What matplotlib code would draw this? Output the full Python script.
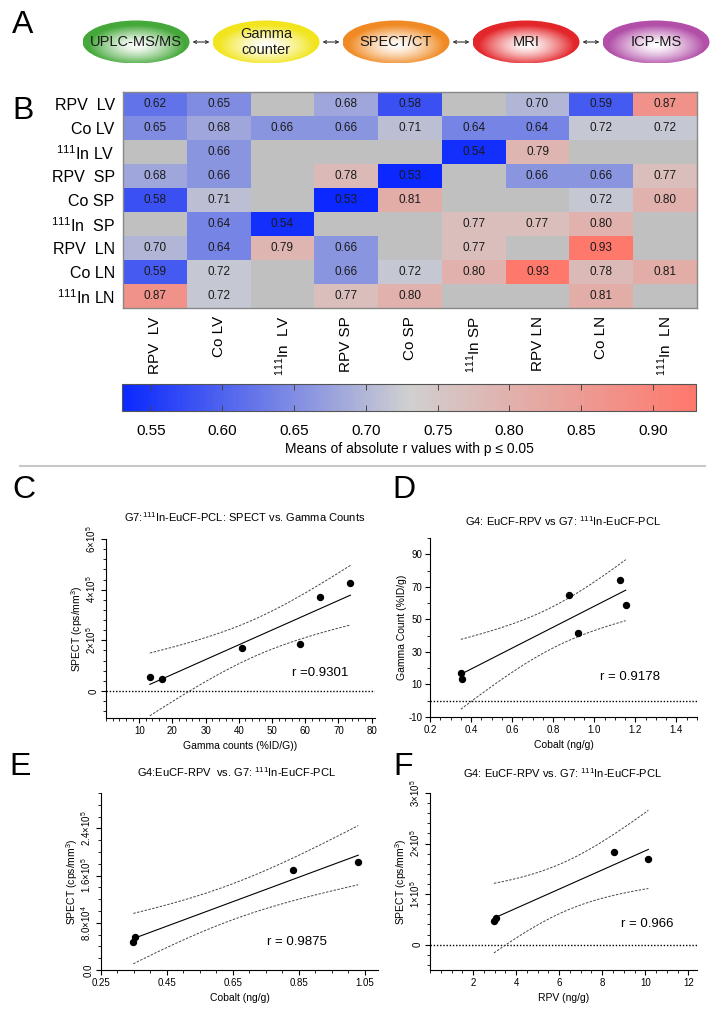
import numpy as np
import matplotlib
matplotlib.use("Agg")
import matplotlib.pyplot as plt
from matplotlib.colors import LinearSegmentedColormap, to_rgb
from matplotlib.patches import Ellipse
from matplotlib.lines import Line2D
from matplotlib.ticker import MultipleLocator, FormatStrFormatter

plt.rcParams["font.family"] = ["Liberation Sans", "DejaVu Sans"]
plt.rcParams["mathtext.default"] = "regular"

W, H = 726, 1035

# panel A
methods = ["UPLC-MS/MS", "Gamma\ncounter", "SPECT/CT", "MRI", "ICP-MS"]
method_colors = ["#45a83a", "#f2e51e", "#f08a24", "#e3262a", "#b24fa8"]

# panel B
row_labels = ["RPV  LV", "Co LV", "$^{111}$In LV", "RPV  SP", "Co SP",
              "$^{111}$In  SP", "RPV  LN", "Co LN", "$^{111}$In LN"]
col_labels = ["RPV  LV", "Co LV", "$^{111}$In  LV", "RPV SP", "Co SP",
              "$^{111}$In SP", "RPV LN", "Co LN", "$^{111}$In  LN"]
nan = np.nan
r_means = np.array([
    [0.62, 0.65, nan, 0.68, 0.58, nan, 0.70, 0.59, 0.87],
    [0.65, 0.68, 0.66, 0.66, 0.71, 0.64, 0.64, 0.72, 0.72],
    [nan, 0.66, nan, nan, nan, 0.54, 0.79, nan, nan],
    [0.68, 0.66, nan, 0.78, 0.53, nan, 0.66, 0.66, 0.77],
    [0.58, 0.71, nan, 0.53, 0.81, nan, nan, 0.72, 0.80],
    [nan, 0.64, 0.54, nan, nan, 0.77, 0.77, 0.80, nan],
    [0.70, 0.64, 0.79, 0.66, nan, 0.77, nan, 0.93, nan],
    [0.59, 0.72, nan, 0.66, 0.72, 0.80, 0.93, 0.78, 0.81],
    [0.87, 0.72, nan, 0.77, 0.80, nan, nan, 0.81, nan],
])
cbar_ticks = [0.55, 0.60, 0.65, 0.70, 0.75, 0.80, 0.85, 0.90]

# panels C-F
gamma_c = [13.2, 16.9, 41.1, 58.5, 64.5, 73.6]
spect_c = [0.55e5, 0.48e5, 1.69e5, 1.85e5, 3.71e5, 4.27e5]
cobalt_d = [0.35, 0.356, 0.878, 0.919, 1.127, 1.153]
gamma_d = [17.3, 13.6, 65.0, 41.4, 74.1, 58.8]
cobalt_e = [0.348, 0.353, 0.831, 1.03]
spect_e = [0.475e5, 0.554e5, 1.69e5, 1.835e5]
rpv_f = [2.97, 3.05, 8.56, 10.14]
spect_f = [0.473e5, 0.538e5, 1.834e5, 1.69e5]

T95 = {2: 4.303, 3: 3.182, 4: 2.776}


def px_axes(fig, l, t, r, b):
    return fig.add_axes([l / W, 1 - b / H, (r - l) / W, (b - t) / H])


def ftext(fig, x, y, s, **kw):
    kw.setdefault("ha", "center")
    kw.setdefault("va", "center")
    fig.text(x / W, 1 - y / H, s, **kw)


def gradient_ellipse(ax, cx, cy, w, h, color):
    e = Ellipse((cx, cy), w, h, facecolor="none", edgecolor="none")
    ax.add_patch(e)
    X, Y = np.meshgrid(np.linspace(-1, 1, 160), np.linspace(-1, 1, 70))
    R = np.sqrt((X * 1.05) ** 2 + (Y - 0.18) ** 2)
    t = np.clip(R / 0.95, 0, 1) ** 1.4
    rgb = (1 - t)[..., None] + t[..., None] * np.array(to_rgb(color))
    im = ax.imshow(rgb, extent=(cx - w / 2, cx + w / 2, cy + h / 2, cy - h / 2),
                   aspect="auto", interpolation="bilinear", zorder=2)
    im.set_clip_path(e)


def scatter_panel(ax, x, y, xlim, ylim, xmajor, xminor, yticks, ylabels, yminor,
                  rot, zero_line=True):
    x = np.asarray(x, float)
    y = np.asarray(y, float)
    n = len(x)
    slope, icpt = np.polyfit(x, y, 1)
    xs = np.linspace(x.min(), x.max(), 100)
    fit = slope * xs + icpt
    resid = y - (slope * x + icpt)
    s = np.sqrt(np.sum(resid ** 2) / (n - 2))
    sxx = np.sum((x - x.mean()) ** 2)
    band = T95[n - 2] * s * np.sqrt(1 / n + (xs - x.mean()) ** 2 / sxx)
    if zero_line:
        ax.axhline(0, color="black", lw=1.0, ls=(0, (1, 1.3)), zorder=1)
    ax.plot(xs, fit + band, color="#444444", lw=0.7, ls=(0, (2.5, 1.5)))
    ax.plot(xs, fit - band, color="#444444", lw=0.7, ls=(0, (2.5, 1.5)))
    ax.plot(xs, fit, color="black", lw=0.8)
    ax.plot(x, y, "o", color="black", ms=4.3, zorder=5)
    ax.set_xlim(*xlim)
    ax.set_ylim(*ylim)
    ax.xaxis.set_major_locator(MultipleLocator(xmajor))
    ax.xaxis.set_minor_locator(MultipleLocator(xminor))
    ax.yaxis.set_minor_locator(MultipleLocator(yminor))
    ax.set_yticks(yticks)
    if rot:
        ax.set_yticklabels(ylabels, rotation=90, va="center")
    else:
        ax.set_yticklabels(ylabels)
    for sp in ["top", "right"]:
        ax.spines[sp].set_visible(False)
    for sp in ["left", "bottom"]:
        ax.spines[sp].set_linewidth(0.8)
    ax.tick_params(which="major", labelsize=7, length=3.5, width=0.8, pad=2)
    ax.tick_params(which="minor", length=2, width=0.6)


def main():
    fig = plt.figure(figsize=(W / 100, H / 100), dpi=100)

    # ---- A: method chain
    axa = px_axes(fig, 0, 0, W, 88)
    axa.axis("off")
    ew, eh, cy = 107, 43, 42
    for i, (name, col) in enumerate(zip(methods, method_colors)):
        cx = 136 + i * 130
        gradient_ellipse(axa, cx, cy, ew, eh, col)
        axa.text(cx, cy, name, ha="center", va="center", fontsize=10.5,
                 color="#1a1a1a", zorder=3, linespacing=1.15)
        if i < len(methods) - 1:
            axa.annotate("", xy=(cx + ew / 2 + 20, cy), xytext=(cx + ew / 2 + 3, cy),
                         arrowprops=dict(arrowstyle="<->", lw=0.8, color="#333333",
                                         shrinkA=0, shrinkB=0, mutation_scale=5))
    axa.set_xlim(0, W)
    axa.set_ylim(88, 0)

    # ---- B: heatmap
    cmap = LinearSegmentedColormap.from_list(
        "bgr", [(0, "#0a28ff"), (0.5, "#d0d0d0"), (1, "#ff786c")])
    cmap.set_bad("#c0c0c0")
    axb = px_axes(fig, 123, 92, 697, 308)
    im = axb.imshow(np.ma.masked_invalid(r_means), cmap=cmap, vmin=0.53, vmax=0.93,
                    aspect="auto", interpolation="nearest")
    for i in range(r_means.shape[0]):
        for j in range(r_means.shape[1]):
            if not np.isnan(r_means[i, j]):
                axb.text(j, i, f"{r_means[i, j]:.2f}", ha="center", va="center",
                         fontsize=8.5, color="#1a1a1a")
    axb.set_xticks(range(len(col_labels)))
    axb.set_xticklabels(col_labels, rotation=90, fontsize=11)
    axb.set_yticks(range(len(row_labels)))
    axb.set_yticklabels(row_labels, fontsize=11.5)
    axb.tick_params(length=0, pad=6)
    for sp in axb.spines.values():
        sp.set_color("#888888")
        sp.set_linewidth(1.0)

    cax = px_axes(fig, 122, 384, 696, 411)
    cb = fig.colorbar(im, cax=cax, orientation="horizontal", ticks=cbar_ticks)
    cb.outline.set_linewidth(0.8)
    cb.outline.set_edgecolor("#555555")
    cax.xaxis.set_major_formatter(FormatStrFormatter("%.2f"))
    cax.tick_params(direction="in", length=4, width=0.7, top=True, bottom=True,
                    labelsize=11, pad=9, color="#444444")
    cb.set_label("Means of absolute r values with p ≤ 0.05", fontsize=10, labelpad=3)

    fig.add_artist(Line2D([20 / W, 705 / W], [1 - 466 / H] * 2, color="#c8c8c8", lw=1.5))

    # ---- C
    axc = px_axes(fig, 106, 539, 375, 718)
    scatter_panel(axc, gamma_c, spect_c, (0, 81), (-1.07e5, 6e5), 10, 2,
                  [0, 2e5, 4e5, 6e5], ["0", "2×10$^5$", "4×10$^5$", "6×10$^5$"], 4e4, True)
    axc.set_xticks([10, 20, 30, 40, 50, 60, 70, 80])
    axc.set_xlabel("Gamma counts (%ID/G))", fontsize=7.5, labelpad=4)
    axc.set_ylabel("SPECT (cps/mm$^3$)", fontsize=7.5, labelpad=0)

    # ---- D
    axd = px_axes(fig, 430, 538, 697, 717)
    scatter_panel(axd, cobalt_d, gamma_d, (0.2, 1.5), (-10, 100), 0.2, 0.05,
                  [-10, 10, 30, 50, 70, 90], ["-10", "10", "30", "50", "70", "90"], 10, False)
    axd.xaxis.set_major_formatter(FormatStrFormatter("%.1f"))
    axd.set_xlabel("Cobalt (ng/g)", fontsize=7.5, labelpad=4)
    axd.set_ylabel("Gamma Count (%ID/g)", fontsize=7.5, labelpad=1)

    # ---- E
    axe = px_axes(fig, 101, 793, 378, 970)
    scatter_panel(axe, cobalt_e, spect_e, (0.25, 1.09), (0, 3e5), 0.2, 0.05,
                  [0, 8e4, 1.6e5, 2.4e5],
                  ["0.0", "8.0×10$^4$", "1.6×10$^5$", "2.4×10$^5$"], 2e4, True,
                  zero_line=False)
    axe.set_xticks([0.25, 0.45, 0.65, 0.85, 1.05])
    axe.xaxis.set_major_formatter(FormatStrFormatter("%.2f"))
    axe.set_xlabel("Cobalt (ng/g)", fontsize=7.5, labelpad=4)
    axe.set_ylabel("SPECT (cps/mm$^3$)", fontsize=7.5, labelpad=0)

    # ---- F
    axf = px_axes(fig, 430, 793, 697, 970)
    scatter_panel(axf, rpv_f, spect_f, (0, 12.4), (-0.5e5, 3e5), 2, 0.5,
                  [0, 1e5, 2e5, 3e5], ["0", "1×10$^5$", "2×10$^5$", "3×10$^5$"], 2e4, True)
    axf.set_xticks([2, 4, 6, 8, 10, 12])
    axf.set_xlabel("RPV (ng/g)", fontsize=7.5, labelpad=4)
    axf.set_ylabel("SPECT (cps/mm$^3$)", fontsize=7.5, labelpad=0)

    # titles and r values
    ftext(fig, 245, 517, "G7:$^{111}$In-EuCF-PCL: SPECT vs. Gamma Counts", fontsize=8)
    ftext(fig, 563, 521, "G4: EuCF-RPV vs G7: $^{111}$In-EuCF-PCL", fontsize=8)
    ftext(fig, 237, 772, "G4:EuCF-RPV  vs. G7: $^{111}$In-EuCF-PCL", fontsize=8)
    ftext(fig, 563, 773, "G4: EuCF-RPV vs. G7: $^{111}$In-EuCF-PCL", fontsize=8)
    ftext(fig, 320, 673, "r =0.9301", fontsize=9.5)
    ftext(fig, 630, 677, "r = 0.9178", fontsize=9.5)
    ftext(fig, 297, 942, "r = 0.9875", fontsize=9.5)
    ftext(fig, 647, 924, "r = 0.966", fontsize=9.5)

    # panel letters
    for letter, x, y in [("A", 23, 25), ("B", 23, 111), ("C", 24, 490),
                         ("D", 404, 490), ("E", 20, 767), ("F", 403, 767)]:
        ftext(fig, x, y, letter, fontsize=23)

    fig.savefig("out.png", dpi=100)


if __name__ == "__main__":
    main()
